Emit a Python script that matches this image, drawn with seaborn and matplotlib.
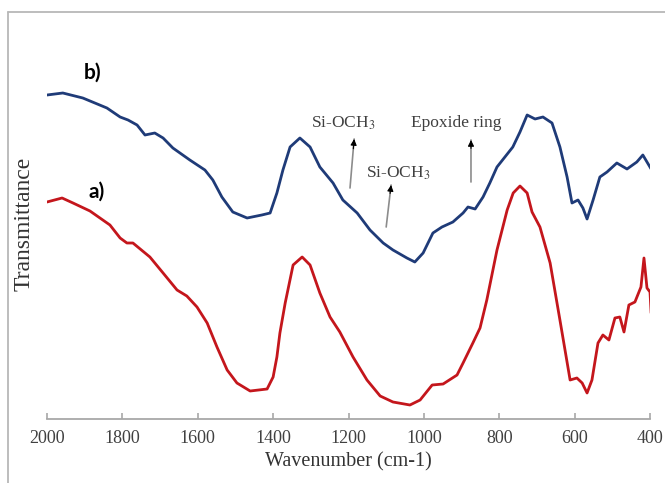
import matplotlib
matplotlib.use('Agg')
import matplotlib.pyplot as plt
import seaborn as sns
import pandas as pd
from matplotlib.lines import Line2D

# спектр b) (верхняя кривая)
wn_b = [2000, 1958, 1905, 1841, 1806, 1785, 1761, 1740, 1714, 1692,
        1666, 1621, 1581, 1560, 1536, 1507, 1469, 1430, 1408, 1390,
        1374, 1355, 1329, 1302, 1276, 1241, 1215, 1177, 1143, 1108,
        1082, 1045, 1024, 1002, 976, 952, 923, 896, 883, 864,
        843, 825, 806, 764, 745, 726, 705, 684, 660, 639,
        620, 607, 591, 578, 567, 551, 533, 514, 488, 461,
        435, 419, 408, 397]
t_b = [324, 326, 321, 311, 302, 299, 294, 284, 286, 281,
       271, 259, 249, 239, 222, 207, 201, 204, 206, 226,
       249, 272, 281, 272, 252, 236, 219, 206, 189, 176,
       169, 161, 157, 166, 186, 192, 197, 206, 212, 210,
       222, 236, 252, 272, 287, 304, 300, 302, 296, 272,
       242, 216, 219, 211, 200, 219, 242, 247, 256, 250,
       257, 264, 257, 250]

# спектр a) (нижняя кривая)
wn_a = [2000, 1960, 1931, 1886, 1833, 1806, 1788, 1772, 1727, 1692,
        1655, 1629, 1602, 1575, 1549, 1522, 1496, 1461, 1416, 1400,
        1390, 1382, 1368, 1347, 1323, 1302, 1276, 1249, 1223, 1188, 1151,
        1116, 1082, 1037, 1010, 978, 949, 912, 896, 870, 851,
        833, 806, 779, 763, 745, 726, 713, 692, 665, 639,
        612, 594, 580, 567, 554, 538, 525, 509, 493, 480,
        469, 456, 440, 424, 416, 408, 400, 397]
t_a = [217, 221, 216, 208, 194, 181, 176, 176, 162, 146,
       129, 123, 112, 96, 72, 49, 36, 28, 30, 42,
       62, 86, 116, 154, 162, 154, 126, 102, 87, 62, 39,
       23, 17, 14, 19, 34, 35, 44, 56, 76, 91,
       119, 169, 209, 226, 233, 226, 207, 192, 156, 99,
       39, 41, 36, 26, 39, 76, 84, 79, 101, 102,
       87, 114, 117, 132, 161, 131, 127, 106]

x_ticks = [2000, 1800, 1600, 1400, 1200, 1000, 800, 600, 400]

# подписи полос: текст, (x, y) текста, (x, y) острия, (x, y) хвоста стрелки
bands = [
    ('Si-OCH$_3$', (1214, 296), (1185, 280), (1196, 231)),
    ('Si-OCH$_3$', (1069, 246), (1087, 234), (1100, 192)),
    ('Epoxide ring', (915, 296), (875, 279), (875, 237)),
]

df_a = pd.DataFrame({'wn': wn_a, 't': t_a})
df_b = pd.DataFrame({'wn': wn_b, 't': t_b})

sns.set_theme(style='white')
plt.rcParams['font.family'] = ['Liberation Serif', 'DejaVu Serif']
plt.rcParams['mathtext.fontset'] = 'stix'
plt.rcParams['lines.solid_joinstyle'] = 'round'
plt.rcParams['lines.solid_capstyle'] = 'round'

fig = plt.figure(figsize=(6.65, 4.83), dpi=100)
ax = fig.add_axes([47 / 665, 64 / 483, 603 / 665, 407 / 483])

sns.lineplot(data=df_b, x='wn', y='t', ax=ax, color='#1f3b78', lw=2.0, estimator=None)
sns.lineplot(data=df_a, x='wn', y='t', ax=ax, color='#c4161c', lw=2.0, estimator=None)

ax.set_xlim(2000, 400)
ax.set_ylim(0, 407)
ax.set_xticks(x_ticks)
ax.set_yticks([])
for s in ['left', 'right', 'top']:
    ax.spines[s].set_visible(False)
ax.spines['bottom'].set_color('#a8a8a8')
ax.spines['bottom'].set_linewidth(1.3)
ax.tick_params(axis='x', direction='in', length=4, width=1.2, color='#a8a8a8',
               labelsize=13, labelcolor='#404040', pad=8, bottom=True)

ax.set_xlabel('Wavenumber (cm-1)', fontsize=14.5, color='#333333', labelpad=4)
ax.set_ylabel('Transmittance', fontsize=17, color='#333333')
ax.yaxis.set_label_coords(-0.02, 0.48)

for label, txt_xy, head, tail in bands:
    ax.text(txt_xy[0], txt_xy[1], label, ha='center', va='center',
            fontsize=12.5, color='#404040')
    # серый стержень стрелки
    ax.annotate('', xy=head, xytext=tail,
                arrowprops=dict(arrowstyle='-', color='#8c8c8c', lw=1.2,
                                shrinkA=0, shrinkB=0))
    # чёрный наконечник
    ax.annotate('', xy=head, xytext=(head[0] + (tail[0] - head[0]) * 0.2,
                                     head[1] + (tail[1] - head[1]) * 0.2),
                arrowprops=dict(arrowstyle='-|>', color='black', lw=0.8,
                                mutation_scale=9, shrinkA=0, shrinkB=0))

ax.text(1878, 346, 'b)', fontsize=15, fontweight='bold', family='Lato',
        ha='center', va='center', color='black')
ax.text(1867, 227, 'a)', fontsize=15, fontweight='bold', family='Lato',
        ha='center', va='center', color='black')

# серая рамка картинки
fig.add_artist(Line2D([8 / 665, 8 / 665], [0, 1 - 12 / 483], transform=fig.transFigure,
                      color='#b8b8b8', lw=1.3))
fig.add_artist(Line2D([8 / 665, 1], [1 - 12 / 483, 1 - 12 / 483], transform=fig.transFigure,
                      color='#b8b8b8', lw=1.3))

fig.savefig('out.png', dpi=100)
